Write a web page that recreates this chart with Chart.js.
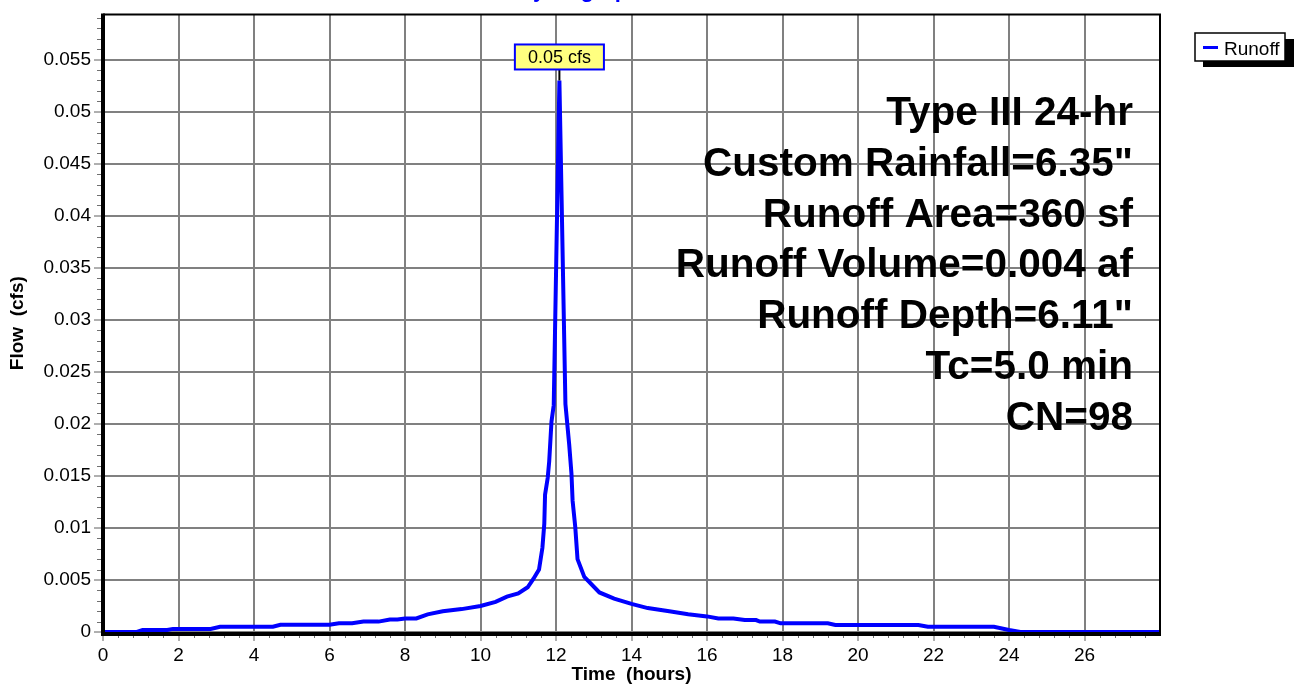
<!DOCTYPE html>
<html>
<head>
<meta charset="utf-8">
<title>Runoff Hydrograph</title>
<script src="https://cdn.jsdelivr.net/npm/chart.js@4.4.0/dist/chart.umd.min.js"></script>
<style>
  html, body { margin: 0; padding: 0; background: #fff; overflow: hidden; }
</style>
</head>
<body>
<canvas id="hydroChart" width="1294" height="687"></canvas>
<script>
const FONT = "'Liberation Sans', Arial, Helvetica, sans-serif";

// hydrograph ordinates (hours, cfs)
const timeHours = [
  0, 0.9, 1.05, 1.7, 1.85, 2.85, 3.1, 4.5, 4.7, 6.0,
  6.25, 6.6, 6.9, 7.3, 7.6, 7.8, 8.0, 8.3, 8.6, 9.0,
  9.5, 10.0, 10.4, 10.7, 11.0, 11.25, 11.4, 11.55, 11.64, 11.69,
  11.71, 11.78, 11.82, 11.88, 11.94, 12.09, 12.25, 12.35, 12.41, 12.44,
  12.51, 12.57, 12.75, 13.15, 13.54, 14.0, 14.43, 15.0, 15.5, 16.0,
  16.3, 16.7, 17.0, 17.3, 17.4, 17.8, 17.95, 19.2, 19.4, 21.6,
  21.85, 23.6, 24.0, 24.3, 28
];
const runoffCfs = [
  0, 0, 0.0002, 0.0002, 0.0003, 0.0003, 0.0005, 0.0005, 0.0007, 0.0007,
  0.00085, 0.00085, 0.001, 0.001, 0.0012, 0.0012, 0.0013, 0.0013, 0.0017, 0.002,
  0.0022, 0.0025, 0.0029, 0.0034, 0.0037, 0.0043, 0.0051, 0.006, 0.0081, 0.0104,
  0.0132, 0.0148, 0.0164, 0.0202, 0.0218, 0.053, 0.0219, 0.018, 0.0152, 0.0126,
  0.0101, 0.007, 0.0053, 0.0038, 0.0032, 0.0027, 0.0023, 0.002, 0.0017, 0.0015,
  0.0013, 0.0013, 0.00115, 0.00115, 0.001, 0.001, 0.00083, 0.00083, 0.00067, 0.00067,
  0.0005, 0.0005, 0.0002, 0, 0
];

const timeTicks = [0, 2, 4, 6, 8, 10, 12, 14, 16, 18, 20, 22, 24, 26];
const flowTicks = [0, 0.005, 0.01, 0.015, 0.02, 0.025, 0.03, 0.035, 0.04, 0.045, 0.05, 0.055];
const timeMinorStep = 0.4;
const flowMinorStep = 0.001;

const stormInfo = [
  'Type III 24-hr',
  'Custom Rainfall=6.35"',
  'Runoff Area=360 sf',
  'Runoff Volume=0.004 af',
  'Runoff Depth=6.11"',
  'Tc=5.0 min',
  'CN=98'
];

const seriesName = 'Runoff';
const chartTitle = 'Hydrograph';

// minor tick marks and the black frame go on top of the line
const framePlugin = {
  id: 'frame',
  afterDatasetsDraw(chart) {
    const c = chart.ctx;
    const a = chart.chartArea;
    const xs = chart.scales.x, ys = chart.scales.y;
    c.save();
    c.strokeStyle = '#707070';
    c.lineWidth = 1;
    c.beginPath();
    for (let v = flowMinorStep; v < ys.max; v += flowMinorStep) {
      if (Math.abs(v / 0.005 - Math.round(v / 0.005)) < 1e-6) continue;
      const py = Math.round(ys.getPixelForValue(v)) + 0.5;
      c.moveTo(a.left - 6, py);
      c.lineTo(a.left, py);
    }
    for (let v = timeMinorStep; v < xs.max - 1e-6; v += timeMinorStep) {
      if (Math.abs(v / 2 - Math.round(v / 2)) < 1e-6) continue;
      const px = Math.round(xs.getPixelForValue(v)) + 0.5;
      c.moveTo(px, a.bottom);
      c.lineTo(px, a.bottom + 6);
    }
    c.stroke();

    c.strokeStyle = '#000';
    c.lineWidth = 2;
    c.beginPath();
    c.moveTo(a.left, a.top);
    c.lineTo(a.right, a.top);
    c.lineTo(a.right, a.bottom);
    c.stroke();
    c.lineWidth = 4;
    c.beginPath();
    c.moveTo(a.left, a.top - 1);
    c.lineTo(a.left, a.bottom + 2);
    c.lineTo(a.right + 1, a.bottom + 2);
    c.stroke();
    c.restore();
  }
};

// peak flow callout
const peakPlugin = {
  id: 'peakLabel',
  afterDatasetsDraw(chart) {
    const c = chart.ctx;
    let iMax = 0;
    runoffCfs.forEach((v, i) => { if (v > runoffCfs[iMax]) iMax = i; });
    const px = chart.scales.x.getPixelForValue(timeHours[iMax]);
    const py = chart.scales.y.getPixelForValue(runoffCfs[iMax]);
    const text = runoffCfs[iMax].toFixed(2) + ' cfs';
    c.save();
    c.font = '18px ' + FONT;
    const w = c.measureText(text).width + 26;
    const h = 25;
    const bottom = py - 11;
    c.strokeStyle = '#000';
    c.lineWidth = 2;
    c.beginPath();
    c.moveTo(px, py);
    c.lineTo(px, bottom);
    c.stroke();
    c.fillStyle = '#ffff80';
    c.fillRect(px - w / 2, bottom - h, w, h);
    c.strokeStyle = '#0000ff';
    c.strokeRect(px - w / 2, bottom - h, w, h);
    c.fillStyle = '#000';
    c.textAlign = 'center';
    c.textBaseline = 'middle';
    c.fillText(text, px, bottom - h / 2 + 1);
    c.restore();
  }
};

// storm summary, legend and the title line
const notesPlugin = {
  id: 'notes',
  afterDraw(chart) {
    const c = chart.ctx;
    c.save();
    c.fillStyle = '#000';
    c.font = 'bold 40.5px ' + FONT;
    c.textAlign = 'right';
    c.textBaseline = 'alphabetic';
    stormInfo.forEach((line, i) => {
      c.fillText(line, 1133, 125 + i * 50.8);
    });

    // legend box with drop shadow
    c.fillStyle = '#000';
    c.fillRect(1203, 39, 91, 28);
    c.fillStyle = '#fff';
    c.fillRect(1195, 33, 90, 28);
    c.strokeStyle = '#000';
    c.lineWidth = 1.5;
    c.strokeRect(1195, 33, 90, 28);
    c.strokeStyle = '#0000ff';
    c.lineWidth = 3;
    c.beginPath();
    c.moveTo(1203, 47.5);
    c.lineTo(1218, 47.5);
    c.stroke();
    c.fillStyle = '#000';
    c.font = '19px ' + FONT;
    c.textAlign = 'left';
    c.fillText(seriesName, 1224, 55);

    c.fillStyle = '#0000ff';
    c.font = 'bold 22px ' + FONT;
    c.fillText(chartTitle, 517, -3);
    c.restore();
  }
};

const ctx = document.getElementById('hydroChart').getContext('2d');

const hydroChart = new Chart(ctx, {
  type: 'line',
  data: {
    datasets: [{
      label: seriesName,
      data: timeHours.map((t, i) => ({ x: t, y: runoffCfs[i] })),
      borderColor: '#0000ff',
      borderWidth: 4,
      pointRadius: 0,
      tension: 0,
      fill: false
    }]
  },
  options: {
    responsive: false,
    animation: false,
    events: [],
    layout: { padding: { top: 10, right: 134, left: 0, bottom: 0 } },
    plugins: {
      legend: { display: false },
      tooltip: { enabled: false }
    },
    scales: {
      x: {
        type: 'linear',
        min: 0,
        max: 28,
        afterFit: (s) => { s.height = 55; },
        afterBuildTicks: (s) => { s.ticks = timeTicks.map(v => ({ value: v })); },
        grid: { color: '#808080', lineWidth: 2, tickLength: 9, tickColor: '#606060', tickWidth: 1 },
        border: { display: false },
        ticks: {
          font: { family: FONT, size: 19 },
          color: '#000',
          padding: 3,
          maxRotation: 0,
          autoSkip: false
        },
        title: {
          display: true,
          text: 'Time  (hours)',
          font: { family: FONT, size: 19, weight: 'bold' },
          color: '#000',
          padding: { top: 0, bottom: 1 }
        }
      },
      y: {
        min: 0,
        max: 0.05935,
        afterFit: (s) => { s.width = 103; },
        afterBuildTicks: (s) => { s.ticks = flowTicks.map(v => ({ value: v })); },
        grid: { color: '#808080', lineWidth: 2, tickLength: 9, tickColor: '#606060', tickWidth: 1 },
        border: { display: false },
        ticks: {
          font: { family: FONT, size: 19 },
          color: '#000',
          padding: 3,
          autoSkip: false,
          callback: (v) => String(+Number(v).toFixed(4))
        },
        title: {
          display: true,
          text: 'Flow  (cfs)',
          font: { family: FONT, size: 19, weight: 'bold' },
          color: '#000',
          padding: { top: 6, bottom: 0 }
        }
      }
    }
  },
  plugins: [framePlugin, peakPlugin, notesPlugin]
});
</script>
</body>
</html>
